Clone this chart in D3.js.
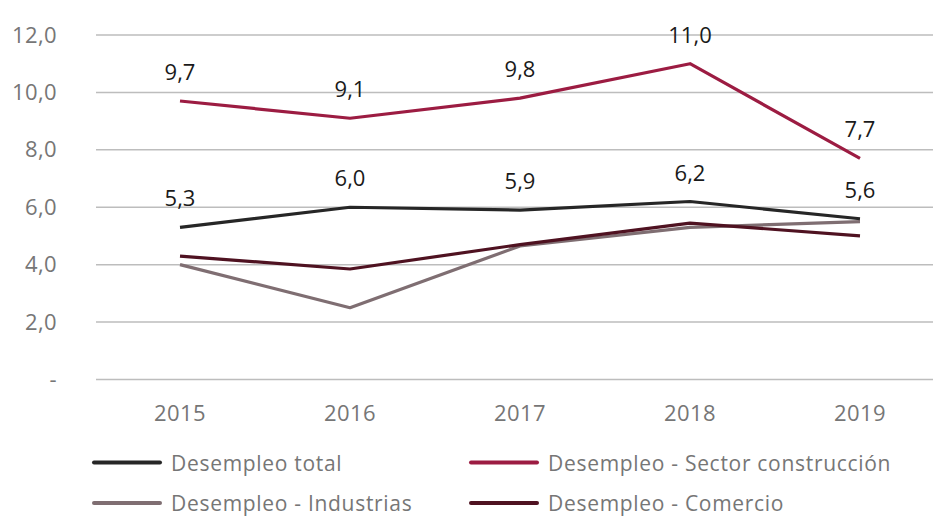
<!DOCTYPE html>
<html>
<head>
<meta charset="utf-8">
<script src="https://cdn.jsdelivr.net/npm/d3@7"></script>
<style>
  html, body { margin: 0; padding: 0; background: #fff; }
  svg { display: block; font-family: "Open Sans", Lato, sans-serif; }
</style>
</head>
<body>
<svg id="chart" width="933" height="516"></svg>
<script>
// Tasa de desempleo por sector, 2015-2019
const years = ["2015", "2016", "2017", "2018", "2019"];
const desempleoTotal = [5.3, 6.0, 5.9, 6.2, 5.6];
const desempleoConstruccion = [9.7, 9.1, 9.8, 11.0, 7.7];
const desempleoIndustrias = [4.0, 2.5, 4.65, 5.3, 5.5];
const desempleoComercio = [4.3, 3.85, 4.7, 5.45, 5.0];
const yTicks = [0, 2, 4, 6, 8, 10, 12];

const series = [
  { name: "Desempleo total", values: desempleoTotal, color: "#262626", labels: true },
  { name: "Desempleo - Sector construcción", values: desempleoConstruccion, color: "#9c1c42", labels: true },
  { name: "Desempleo - Industrias", values: desempleoIndustrias, color: "#7f6e72", labels: false },
  { name: "Desempleo - Comercio", values: desempleoComercio, color: "#4f1221", labels: false }
];

const svg = d3.select("#chart");
const locale = d3.formatLocale({ decimal: ",", thousands: ".", grouping: [3], currency: ["", ""] });
const fmt = locale.format(".1f");

const x = d3.scaleBand().domain(years).range([95, 945]).padding(0);
const y = d3.scaleLinear().domain([0, 12]).range([379.5, 35]);
const cx = d => x(d) + x.bandwidth() / 2;

// horizontal gridlines
svg.append("g")
  .selectAll("line")
  .data(yTicks)
  .join("line")
  .attr("x1", 96).attr("x2", 933)
  .attr("y1", d => y(d)).attr("y2", d => y(d))
  .attr("stroke", "#bdbdbd")
  .attr("stroke-width", 1.5);

// y axis labels
const yAxis = svg.append("g")
  .attr("transform", "translate(57,0)")
  .call(d3.axisLeft(y).tickValues(yTicks).tickSize(0).tickPadding(0)
    .tickFormat(d => d === 0 ? "-" : fmt(d)));
yAxis.select(".domain").remove();
yAxis.selectAll("text")
  .attr("fill", "#767676")
  .style("font-size", "22px")
  .style("letter-spacing", "0.4px")
  .style("font-family", "'Open Sans', sans-serif");

// x axis labels
const xAxis = svg.append("g")
  .attr("transform", "translate(0,405)")
  .call(d3.axisBottom(x).tickSize(0).tickPadding(0));
xAxis.select(".domain").remove();
xAxis.selectAll("text")
  .attr("fill", "#767676")
  .attr("dy", "0.73em")
  .style("font-size", "22px")
  .style("letter-spacing", "0.4px")
  .style("font-family", "'Open Sans', sans-serif");

// lines
const line = d3.line()
  .x((d, i) => cx(years[i]))
  .y(d => y(d));

// draw order: industrias, comercio, total, construcción
const drawOrder = [2, 3, 0, 1];
svg.append("g")
  .selectAll("path")
  .data(drawOrder.map(i => series[i]))
  .join("path")
  .attr("d", s => line(s.values))
  .attr("fill", "none")
  .attr("stroke", s => s.color)
  .attr("stroke-width", 3.2)
  .attr("stroke-linejoin", "round");

// value labels
series.filter(s => s.labels).forEach(s => {
  svg.append("g")
    .selectAll("text")
    .data(s.values)
    .join("text")
    .attr("x", (d, i) => cx(years[i]))
    .attr("y", d => y(d) - 30)
    .attr("text-anchor", "middle")
    .attr("dominant-baseline", "central")
    .attr("fill", "#1a1a1a")
    .style("font-size", "22px")
    .text(d => fmt(d));
});

// legend
const legendItems = [
  { s: series[0], lx: 94, ly: 462.5 },
  { s: series[1], lx: 471, ly: 462.5 },
  { s: series[2], lx: 94, ly: 503 },
  { s: series[3], lx: 471, ly: 503 }
];
const lg = svg.append("g").selectAll("g").data(legendItems).join("g")
  .attr("transform", d => `translate(${d.lx},${d.ly})`);
lg.append("line")
  .attr("x1", 0).attr("x2", 66).attr("y1", 0).attr("y2", 0)
  .attr("stroke", d => d.s.color)
  .attr("stroke-width", 4)
  .attr("stroke-linecap", "round");
lg.append("text")
  .attr("x", 77)
  .attr("dominant-baseline", "central")
  .attr("fill", "#767676")
  .style("font-size", "21px")
  .style("letter-spacing", "0.7px")
  .text(d => d.s.name);
</script>
</body>
</html>
